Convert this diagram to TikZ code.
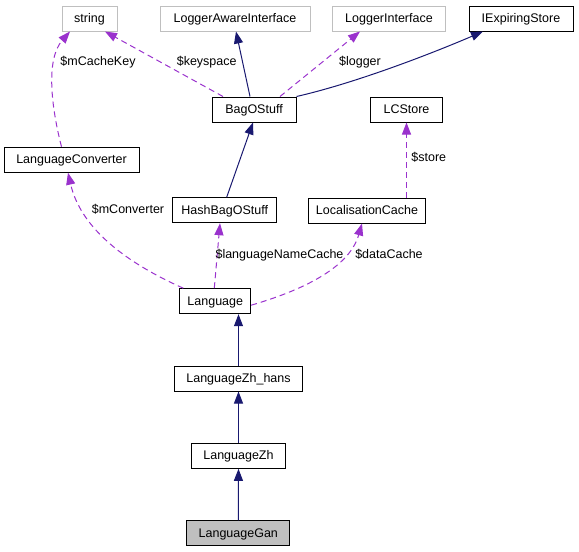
\documentclass[tikz,border=0pt]{standalone}
\usepackage{fontspec}
\setmainfont{Liberation Sans}
\usetikzlibrary{arrows.meta}
\definecolor{navyedge}{HTML}{191970}
\definecolor{purpedge}{HTML}{9A32CD}
\definecolor{grayborder}{HTML}{BFBFBF}
\definecolor{grayfill}{HTML}{BFBFBF}
\begin{document}
\begin{tikzpicture}[x=1pt,y=-1pt,
  font=\fontsize{12.5}{15}\selectfont,
  box/.style={draw=black,line width=1pt,fill=white,inner sep=0pt,minimum height=25pt,text height=9pt,text depth=1.4pt},
  gbox/.style={box,draw=grayborder},
  hbox/.style={box,fill=grayfill},
  inh/.style={draw=navyedge,line width=1pt,-{Triangle[length=12pt,width=9pt]},color=navyedge},
  use/.style={draw=purpedge,line width=1pt,dash pattern=on 6pt off 4pt,-{Triangle[length=12pt,width=9pt]},color=purpedge},
  lbl/.style={inner sep=0pt,text=black,text height=9pt,text depth=1.4pt}]
\useasboundingbox (0,0) rectangle (579,552);
% nodes
\node[gbox,minimum width=55pt] (str) at (89.5,18.5) {string};
\node[gbox,minimum width=150pt] (lai) at (235,18.5) {LoggerAwareInterface};
\node[gbox,minimum width=113pt] (li) at (389,18.5) {LoggerInterface};
\node[box,minimum width=104pt] (ies) at (521,18.5) {IExpiringStore};
\node[box,minimum width=84pt] (bag) at (254,109.5) {BagOStuff};
\node[box,minimum width=71.5pt] (lcs) at (406.5,109.5) {LCStore};
\node[box,minimum width=135pt] (lc) at (71.5,159.7) {LanguageConverter};
\node[box,minimum width=104pt] (hash) at (224.7,210.2) {HashBagOStuff};
\node[box,minimum width=117.4pt] (loc) at (367,210.5) {LocalisationCache};
\node[box,minimum width=70.7pt] (lang) at (215.3,301.2) {Language};
\node[box,minimum width=128.4pt] (zhh) at (238.5,378.5) {LanguageZh\_hans};
\node[box,minimum width=93.6pt] (zh) at (238.5,455.8) {LanguageZh};
\node[hbox,minimum width=103.3pt] (gan) at (238.3,533.3) {LanguageGan};
% inheritance edges
\draw[inh] ([xshift=-4pt]bag.north) -- ([xshift=1pt]lai.south);
\draw[inh] (bag.north east) .. controls (360,82) and (440,50) .. ([xshift=-38pt]ies.south);
\draw[inh] ([xshift=2pt]hash.north) -- ([xshift=-1pt]bag.south);
\draw[inh] (zhh.north) -- ([xshift=23.2pt]lang.south);
\draw[inh] (zh.north) -- (zhh.south);
\draw[inh] (gan.north) -- (zh.south);
% usage edges
\draw[use] ([xshift=-31pt]bag.north) -- ([xshift=15.5pt]str.south);
\draw[use] ([xshift=26pt]bag.north) -- ([xshift=-29pt]li.south);
\draw[use] ([xshift=-10pt]lc.north) .. controls (52,110) and (45,60) .. ([xshift=-19.5pt]str.south);
\draw[use] ([xshift=39.5pt]loc.north) -- (lcs.south);
\draw[use] ([xshift=-32pt]lang.north) .. controls (120,260) and (80,225) .. ([xshift=-3.5pt]lc.south);
\draw[use] ([xshift=-1pt]lang.north) -- ([xshift=-4.7pt]hash.south);
\draw[use] ([yshift=-4pt]lang.east) .. controls (310,288) and (350,265) .. ([xshift=-5pt]loc.south);
% labels
\node[lbl] (l1) at (98,62) {\$mCacheKey};
\node[lbl] (l2) at (206.7,62) {\$keyspace};
\node[lbl] (l3) at (360,62) {\$logger};
\node[lbl] (l4) at (428.8,158) {\$store};
\node[lbl] (l5) at (128,210) {\$mConverter};
\node[lbl] (l6) at (279.5,255) {\$languageNameCache};
\node[lbl] (l7) at (389,255) {\$dataCache};
\end{tikzpicture}
\end{document}
